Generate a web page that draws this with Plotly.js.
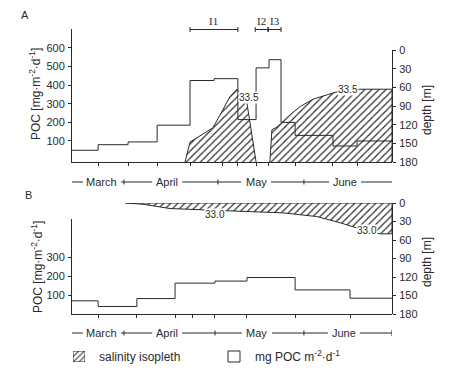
<!DOCTYPE html>
<html><head><meta charset="utf-8">
<script src="https://cdn.plot.ly/plotly-3.0.1.min.js"></script>
<style>html,body{margin:0;padding:0;background:#fff}#chart{width:450px;height:369px}</style>
</head><body><div id="chart"></div>
<script>
// x values: days after 1 March
const stepEdgesA = [13, 21.9, 32.1, 42.0, 53.2, 61.4, 69.5, 75.7, 80.1, 84.2, 89.0, 101.9, 110.1, 122];
const pocA = [50, 80, 95, 185, 425, 435, 215, 493, 537, 200, 130, 73, 100];
const tickDaysA = [21.9, 32.1, 42.0, 53.2, 64.1, 69.5, 75.7, 80.1, 89.0, 101.9, 110.1];

const stepEdgesB = [13, 21.9, 35.1, 48.1, 61.7, 72.6, 89.0, 107.7, 122];
const pocB = [70, 40, 82, 164, 175, 194, 128, 84];
const tickDaysB = [21.9, 35.1, 48.1, 54.2, 61.7, 72.6, 89.0, 107.7];

// salinity isopleth 33.5 (panel A), depth in m
const isoA1Day = [51.5, 53.2, 57.6, 61.0, 64.4, 66.8, 69.2, 70.2, 71.6, 72.6, 73.6, 74.6, 75.7];
const isoA1Depth = [180, 148, 135, 125, 96, 75, 63, 70, 80, 86, 116, 145, 180];
const isoA2Day = [80.4, 81.1, 82.8, 87.3, 90.7, 95.1, 99.9, 102.6, 106.0, 111.1, 122, 122];
const isoA2Depth = [180, 128, 124, 104, 91, 79, 72, 68, 66, 63, 63, 180];
// isopleth 33.0 (panel B): lower edge, upper edge at 0 m
const isoBDay = [31.1, 37.2, 46.4, 60.0, 73.6, 84.9, 96.4, 104.3, 111.1, 117.9, 122];
const isoBDepth = [0, 2, 9, 12, 14, 16, 22, 32, 42, 50, 50];

const isoLabelsA = ['33.5', '33.5'];
const isoLabelDayA = [73.2, 107.0];
const isoLabelDepthA = [76, 64];
const isoLabelsB = ['33.0', '33.0'];
const isoLabelDayB = [61.7, 113.5];
const isoLabelDepthB = [18, 45];

const intervalNames = ['I1', 'I2', 'I3'];
const intervalStart = [53.2, 75.4, 79.8];
const intervalEnd = [69.5, 79.8, 84.2];

const monthNames = ['March', 'April', 'May', 'June'];
const monthMidA = [23.2, 45.4, 75.7, 106.0];
const monthDivA = [30.7, 62.7, 92.0, 122.3];
const monthMidB = [23.2, 45.4, 76.0, 105.6];
const monthDivB = [30.7, 61.7, 92.0, 122];
const monthHalfPx = [19, 15, 15, 16];

const POC_TICKS_A = [100, 200, 300, 400, 500, 600];
const POC_TICKS_B = [100, 200, 300];
const DEPTH_TICKS = [0, 30, 60, 90, 120, 150, 180];

// ---- helpers ----
const W = 450, H = 369;
const px = v => v / W;
const py = v => 1 - v / H;
const X0 = 72, X1 = 392, D0 = 13, D1 = 122;
const pxPerDay = (X1 - X0) / (D1 - D0);
const INK = '#2a2a2a';
const FAM = 'Liberation Sans, Arial, sans-serif';
const FONT = {family: FAM, size: 11, color: INK};

function stepXY(edges, vals) {
  return {x: edges.slice(), y: vals.concat([vals[vals.length - 1]])};
}
const sA = stepXY(stepEdgesA, pocA);
const sB = stepXY(stepEdgesB, pocB);

const hatch = {shape: '/', size: 5, solidity: 0.24, fgcolor: INK, bgcolor: 'rgba(0,0,0,0)'};

const traces = [
  {x: isoA1Day, y: isoA1Depth, xaxis: 'x', yaxis: 'y2', mode: 'lines', fill: 'toself',
   fillcolor: 'rgba(0,0,0,0)', fillpattern: hatch, line: {color: INK, width: 1}, hoverinfo: 'skip'},
  {x: isoA2Day, y: isoA2Depth, xaxis: 'x', yaxis: 'y2', mode: 'lines', fill: 'toself',
   fillcolor: 'rgba(0,0,0,0)', fillpattern: hatch, line: {color: INK, width: 1}, hoverinfo: 'skip'},
  {x: sA.x, y: sA.y, xaxis: 'x', yaxis: 'y', mode: 'lines', line: {shape: 'hv', color: INK, width: 1}, hoverinfo: 'skip'},
  {x: isoBDay.concat([122, isoBDay[0]]), y: isoBDepth.concat([0, 0]), xaxis: 'x2', yaxis: 'y4', mode: 'lines', fill: 'toself',
   fillcolor: 'rgba(0,0,0,0)', fillpattern: hatch, line: {color: INK, width: 1}, hoverinfo: 'skip'},
  {x: sB.x, y: sB.y, xaxis: 'x2', yaxis: 'y3', mode: 'lines', line: {shape: 'hv', color: INK, width: 1}, hoverinfo: 'skip'},
  // legend hatch swatch
  {x: [0, 1, 1, 0, 0], y: [0, 0, 1, 1, 0], xaxis: 'x3', yaxis: 'y5', mode: 'lines', fill: 'toself',
   fillcolor: 'rgba(0,0,0,0)', fillpattern: {shape: '/', size: 4, solidity: 0.25, fgcolor: INK, bgcolor: 'rgba(0,0,0,0)'},
   line: {color: INK, width: 1}, hoverinfo: 'skip'}
];

const baseX = {range: [D0, D1], domain: [px(X0), px(X1)], showticklabels: false, ticks: 'outside', ticklen: 3,
  tickcolor: INK, showline: true, linecolor: INK, linewidth: 1, showgrid: false, zeroline: false, fixedrange: true};
const baseY = {ticks: 'outside', ticklen: 3, tickcolor: INK, showline: true, linecolor: INK, linewidth: 1,
  showgrid: false, zeroline: false, tickfont: FONT, fixedrange: true, ticklabelstandoff: 1};

const layout = {
  width: W, height: H, margin: {l: 0, r: 0, t: 0, b: 0},
  paper_bgcolor: '#fff', plot_bgcolor: 'rgba(0,0,0,0)', showlegend: false, font: FONT,
  xaxis: Object.assign({}, baseX, {anchor: 'y', tickmode: 'array', tickvals: tickDaysA}),
  yaxis: Object.assign({}, baseY, {anchor: 'x', domain: [py(162), py(29)], range: [-13, 702], tickmode: 'array', tickvals: POC_TICKS_A}),
  yaxis2: Object.assign({}, baseY, {anchor: 'x', side: 'right', domain: [py(162), py(50)], range: [180, 0], tickmode: 'array', tickvals: DEPTH_TICKS}),
  xaxis2: Object.assign({}, baseX, {anchor: 'y3', tickmode: 'array', tickvals: tickDaysB}),
  yaxis3: Object.assign({}, baseY, {anchor: 'x2', domain: [py(314), py(219)], range: [0, 505], tickmode: 'array', tickvals: POC_TICKS_B}),
  yaxis4: Object.assign({}, baseY, {anchor: 'x2', side: 'right', domain: [py(314), py(203)], range: [180, 0], tickmode: 'array', tickvals: DEPTH_TICKS}),
  xaxis3: {domain: [px(73), px(85)], range: [0, 1], visible: false, anchor: 'y5', fixedrange: true},
  yaxis5: {domain: [py(362), py(351)], range: [0, 1], visible: false, anchor: 'x3', fixedrange: true},
  shapes: [], annotations: []
};

function monthRow(xref, yPix, mids, divs) {
  const yp = py(yPix);
  const line = {color: INK, width: 1};
  let prev = D0;
  mids.forEach((m, i) => {
    const half = monthHalfPx[i] / pxPerDay;
    layout.shapes.push({type: 'line', xref: xref, yref: 'paper', x0: prev, x1: m - half, y0: yp, y1: yp, line: line});
    prev = m + half;
    layout.annotations.push({xref: xref, yref: 'paper', x: m, y: yp, text: monthNames[i], showarrow: false,
      font: FONT, xanchor: 'center', yanchor: 'middle'});
  });
  layout.shapes.push({type: 'line', xref: xref, yref: 'paper', x0: prev, x1: divs[divs.length - 1], y0: yp, y1: yp, line: line});
  divs.forEach((d, i) => {
    const h = (i === divs.length - 1) ? 3 : 2.5;
    layout.shapes.push({type: 'line', xref: xref, yref: 'paper', x0: d, x1: d, y0: py(yPix - h), y1: py(yPix + h), line: line});
  });
}
monthRow('x', 182, monthMidA, monthDivA);
monthRow('x2', 333, monthMidB, monthDivB);

// interval brackets I1..I3
intervalNames.forEach((n, i) => {
  const yp = py(29.5);
  const line = {color: INK, width: 1};
  layout.shapes.push({type: 'line', xref: 'x', yref: 'paper', x0: intervalStart[i], x1: intervalEnd[i], y0: yp, y1: yp, line: line});
  [intervalStart[i], intervalEnd[i]].forEach(d => layout.shapes.push({type: 'line', xref: 'x', yref: 'paper',
    x0: d, x1: d, y0: py(27), y1: py(32), line: line}));
  layout.annotations.push({xref: 'x', yref: 'paper', x: (intervalStart[i] + intervalEnd[i]) / 2, y: py(21),
    text: n, showarrow: false, font: {family: 'Liberation Serif, serif', size: 11, color: INK},
    xanchor: 'center', yanchor: 'middle'});
});

// isopleth labels
isoLabelsA.forEach((t, i) => layout.annotations.push({xref: 'x', yref: 'y2', x: isoLabelDayA[i], y: isoLabelDepthA[i],
  text: t, showarrow: false, font: {family: FAM, size: 10, color: INK}, bgcolor: '#fff', borderpad: 0,
  xanchor: 'center', yanchor: 'middle'}));
isoLabelsB.forEach((t, i) => layout.annotations.push({xref: 'x2', yref: 'y4', x: isoLabelDayB[i], y: isoLabelDepthB[i],
  text: t, showarrow: false, font: {family: FAM, size: 10, color: INK}, bgcolor: '#fff', borderpad: 0,
  xanchor: 'center', yanchor: 'middle'}));

// panel letters and axis titles
const ann = (x, y, text, opts) => layout.annotations.push(Object.assign({xref: 'paper', yref: 'paper', x: px(x), y: py(y),
  text: text, showarrow: false, font: FONT, xanchor: 'center', yanchor: 'middle'}, opts || {}));
ann(25, 15, 'A');
ann(28, 195, 'B');
const pocTitle = 'POC [mg·m<sup>-2</sup>·d<sup>-1</sup>]';
const titleFont = {family: FAM, size: 12, color: INK};
ann(35, 94, pocTitle, {textangle: -90, font: titleFont});
ann(37, 267, pocTitle, {textangle: -90, font: titleFont});
ann(427, 110, 'depth [m]', {textangle: -90, font: titleFont});
ann(427, 262, 'depth [m]', {textangle: -90, font: titleFont});

// legend
ann(97, 357, 'salinity isopleth', {xanchor: 'left', font: titleFont});
layout.shapes.push({type: 'rect', xref: 'paper', yref: 'paper', x0: px(228), x1: px(240), y0: py(362), y1: py(351),
  line: {color: INK, width: 1}});
ann(253, 356, 'mg POC m<sup>-2</sup>·d<sup>-1</sup>', {xanchor: 'left', font: titleFont});

Plotly.newPlot('chart', traces, layout, {staticPlot: true, displayModeBar: false});
</script>
</body></html>
